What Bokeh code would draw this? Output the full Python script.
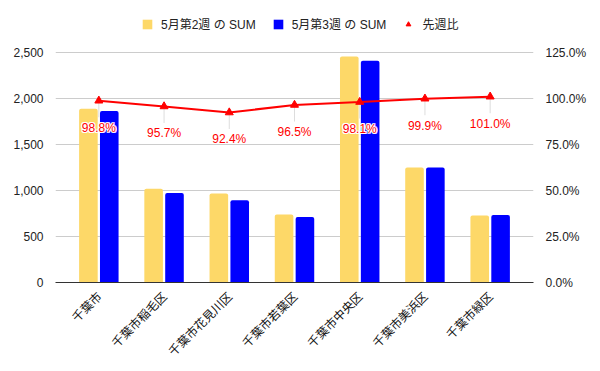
import math
from bokeh.plotting import figure
from bokeh.models import (Range1d, LinearAxis, NumeralTickFormatter, FactorRange,
                          Legend, LegendItem, ColumnDataSource, FixedTicker)
from bokeh.transform import dodge
from bokeh.core.properties import value
from bokeh.embed import file_html
from bokeh.resources import INLINE

# ---- data ----
wards = ["千葉市", "千葉市稲毛区", "千葉市花見川区", "千葉市若葉区",
         "千葉市中央区", "千葉市美浜区", "千葉市緑区"]
week2_sum = [1888, 1018, 967, 739, 2457, 1250, 728]
week3_sum = [1865, 974, 894, 713, 2410, 1249, 735]
ratio = [0.988, 0.957, 0.924, 0.965, 0.981, 0.999, 1.010]
ratio_labels = ["98.8%", "95.7%", "92.4%", "96.5%", "98.1%", "99.9%", "101.0%"]
left_ticks = [0, 500, 1000, 1500, 2000, 2500]
right_ticks = [0, 0.25, 0.5, 0.75, 1.0, 1.25]

series_names = ["5月第2週 の SUM", "5月第3週 の SUM", "先週比"]

YELLOW = "#fdd868"
BLUE = "#0000ff"
RED = "#ff0000"
LAT = "'Liberation Sans', 'Noto Sans CJK JP', sans-serif"
CJK = "'Noto Sans CJK JP', sans-serif"

# layout (pixels): the plotting area spans 230 px for the axis range, with
# extra headroom above it for the legend
AXIS_PX = 230
HEADROOM_PX = 48
scale = (AXIS_PX + HEADROOM_PX) / AXIS_PX
left_max = left_ticks[-1]
right_max = right_ticks[-1]

src = ColumnDataSource(dict(ward=wards, w2=week2_sum, w3=week3_sum,
                            ratio=ratio, lab=ratio_labels,
                            lead=[r - 0.09 for r in ratio]))

p = figure(x_range=FactorRange(*wards, range_padding=0.047),
           y_range=Range1d(0, left_max * scale),
           width=600, height=371, output_backend="svg", toolbar_location=None,
           min_border_left=55, min_border_right=67, min_border_top=52 - HEADROOM_PX,
           min_border_bottom=89)
p.extra_y_ranges = {"pct": Range1d(0, right_max * scale)}
p.outline_line_color = None
p.background_fill_color = "white"
p.border_fill_color = "white"

# grid
p.xgrid.grid_line_color = None
p.ygrid.grid_line_color = "#cccccc"
p.ygrid.ticker = FixedTicker(ticks=left_ticks)

# left axis
ya = p.yaxis[0]
ya.ticker = FixedTicker(ticks=left_ticks)
ya.formatter = NumeralTickFormatter(format="0,0")
ya.axis_line_color = None
ya.major_tick_line_color = None
ya.minor_tick_line_color = None
ya.major_label_standoff = 6
ya.major_label_text_font = LAT
ya.major_label_text_font_size = "12px"
ya.major_label_text_color = "#222222"

# right axis
ra = LinearAxis(y_range_name="pct", ticker=FixedTicker(ticks=right_ticks),
                formatter=NumeralTickFormatter(format="0.0%"))
ra.axis_line_color = None
ra.major_tick_line_color = None
ra.minor_tick_line_color = None
ra.major_label_standoff = 6
ra.major_label_text_font = LAT
ra.major_label_text_font_size = "12px"
ra.major_label_text_color = "#222222"
p.add_layout(ra, "right")

# bottom axis
xa = p.xaxis[0]
xa.axis_line_color = "#333333"
xa.axis_line_width = 1
xa.major_tick_line_color = None
xa.minor_tick_line_color = None
xa.major_label_orientation = math.pi / 4
xa.major_label_standoff = 5
xa.major_label_text_font = CJK
xa.major_label_text_font_size = "12px"
xa.major_label_text_color = "#111111"

# bars
b2 = p.vbar(x=dodge("ward", -0.16, range=p.x_range), top="w2", width=0.285,
            source=src, fill_color=YELLOW, line_color=None,
            border_radius=(2, 2, 0, 0))
b3 = p.vbar(x=dodge("ward", 0.16, range=p.x_range), top="w3", width=0.285,
            source=src, fill_color=BLUE, line_color=None,
            border_radius=(2, 2, 0, 0))

# leader lines
p.segment(x0="ward", y0="ratio", x1="ward", y1="lead", source=src,
          y_range_name="pct", line_color="#dddddd", line_width=1)

# ratio line
p.line(x="ward", y="ratio", source=src, y_range_name="pct",
       line_color=RED, line_width=2)
sc = p.scatter(x="ward", y="ratio", source=src, y_range_name="pct",
               marker="triangle", size=8, fill_color=RED, line_color=RED)

# labels with white halo
for dx, dy in [(-1, 0), (1, 0), (0, -1), (0, 1), (-1, -1), (1, 1), (-1, 1), (1, -1)]:
    p.text(x="ward", y="ratio", text="lab", source=src, y_range_name="pct",
           x_offset=dx, y_offset=27 + dy, text_align="center",
           text_baseline="middle", text_color="white",
           text_font=value(LAT), text_font_size="12px")
p.text(x="ward", y="ratio", text="lab", source=src, y_range_name="pct",
       y_offset=27, text_align="center", text_baseline="middle",
       text_color=RED, text_font=value(LAT), text_font_size="12px")

legend = Legend(items=[LegendItem(label=series_names[0], renderers=[b2]),
                       LegendItem(label=series_names[1], renderers=[b3]),
                       LegendItem(label=series_names[2], renderers=[sc])],
                orientation="horizontal", location=(86, 250),
                glyph_width=12, glyph_height=12, label_standoff=8, spacing=16,
                padding=0, margin=0, border_line_color=None,
                background_fill_alpha=0,
                label_text_font=LAT, label_text_font_size="12px",
                label_text_color="#222222")
p.add_layout(legend, "center")

open("out.html", "w").write(file_html(p, INLINE))
